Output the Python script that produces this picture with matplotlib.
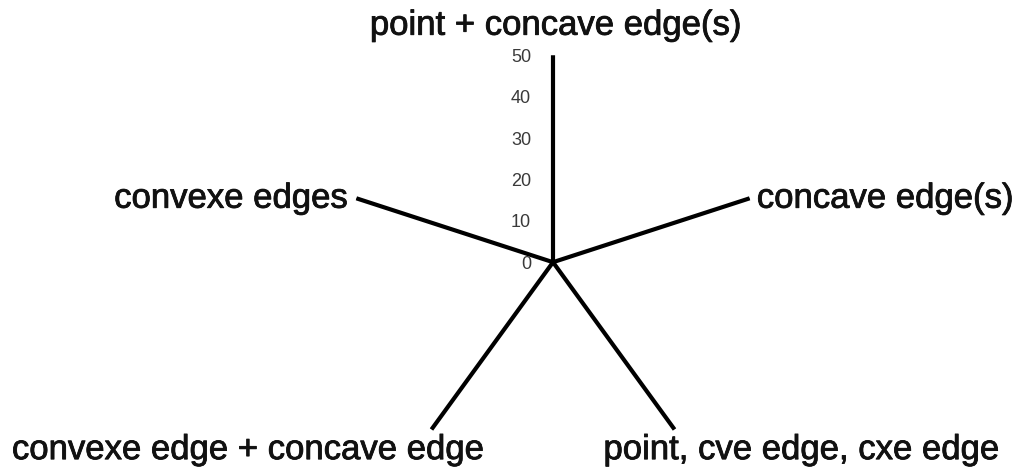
import numpy as np
import matplotlib
matplotlib.use("Agg")
import matplotlib.pyplot as plt
import matplotlib.patheffects as pe

# spoke labels, clockwise from the top
categories = ["point + concave edge(s)", "concave edge(s)", "point, cve edge, cxe edge",
              "convexe edge + concave edge", "convexe edges"]
r_ticks = [0, 10, 20, 30, 40, 50]
r_max = 50
# where each label sits relative to the spoke end (pixels) and how it's aligned
label_offsets = [(3, 30), (7, 0), (127, -20), (-183, -20), (-8, 0)]
label_ha = ["center", "left", "center", "center", "right"]

plt.rcParams['font.family'] = ['Liberation Sans', 'DejaVu Sans']

fig = plt.figure(figsize=(10.22, 4.72), dpi=100)
ax = fig.add_axes([0.3386, 0.006, 0.405, 0.877], projection='polar')
ax.set_theta_offset(np.pi / 2)
ax.set_theta_direction(-1)
ax.set_ylim(0, r_max)
ax.grid(False)
ax.spines['polar'].set_visible(False)
ax.set_xticks([])
ax.set_yticks([])

thick = [pe.withStroke(linewidth=0.6, foreground='#111111')]

angles = np.linspace(0, 2 * np.pi, len(categories), endpoint=False)
for a, name, off, ha in zip(angles, categories, label_offsets, label_ha):
    ax.plot([a, a], [0, r_max], color='black', lw=3, solid_capstyle='butt')
    ax.annotate(name, xy=(a, r_max), xytext=off, textcoords='offset pixels',
                ha=ha, va='center', fontsize=25, color='#111111',
                path_effects=thick, annotation_clip=False)

for t in r_ticks:
    ax.annotate(str(t), xy=(0, t), xytext=(-22, -2), textcoords='offset pixels',
                ha='right', va='center', fontsize=13, color='#3a3a3a', annotation_clip=False)

fig.savefig("out.png", dpi=100, facecolor='white')
